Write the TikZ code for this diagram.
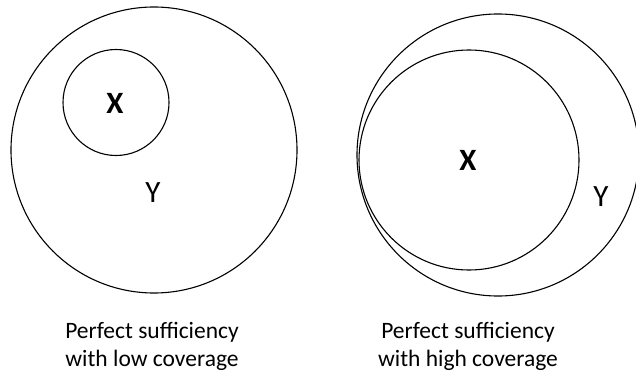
\documentclass[tikz,border=0pt]{standalone}
\usepackage{fontspec}
\setmainfont{Carlito}
\begin{document}
\begin{tikzpicture}[x=1pt,y=-1pt,
  ring/.style={draw=black,line width=1.1pt},
  setlbl/.style={font=\fontsize{31}{31}\selectfont,inner sep=0pt},
  setlblb/.style={font=\bfseries\fontsize{31}{31}\selectfont,inner sep=0pt},
  captxt/.style={font=\fontsize{23.5}{28}\selectfont,align=center,inner sep=0pt}]
\useasboundingbox (0,0) rectangle (636,377);
% left
\node[ring,circle,minimum size=286pt,inner sep=0pt] (Yl) at (154,150) {};
\node[ring,circle,minimum size=106pt,inner sep=0pt] (Xl) at (116,102.5) {};
\node[setlblb] (xl) at (115,103) {X};
\node[setlbl] (yl) at (153,193) {Y};
% right
\node[ring,circle,minimum size=282pt,inner sep=0pt] (Yr) at (498,155) {};
\node[ring,circle,minimum size=220pt,inner sep=0pt] (Xr) at (469,160) {};
\node[setlblb] (xr) at (468,160) {X};
\node[setlbl] (yr) at (601,197) {Y};
% captions
\node[captxt] (cl) at (152,346) {Perfect sufficiency\\with low coverage};
\node[captxt] (cr) at (468,346) {Perfect sufficiency\\with high coverage};
\end{tikzpicture}
\end{document}
